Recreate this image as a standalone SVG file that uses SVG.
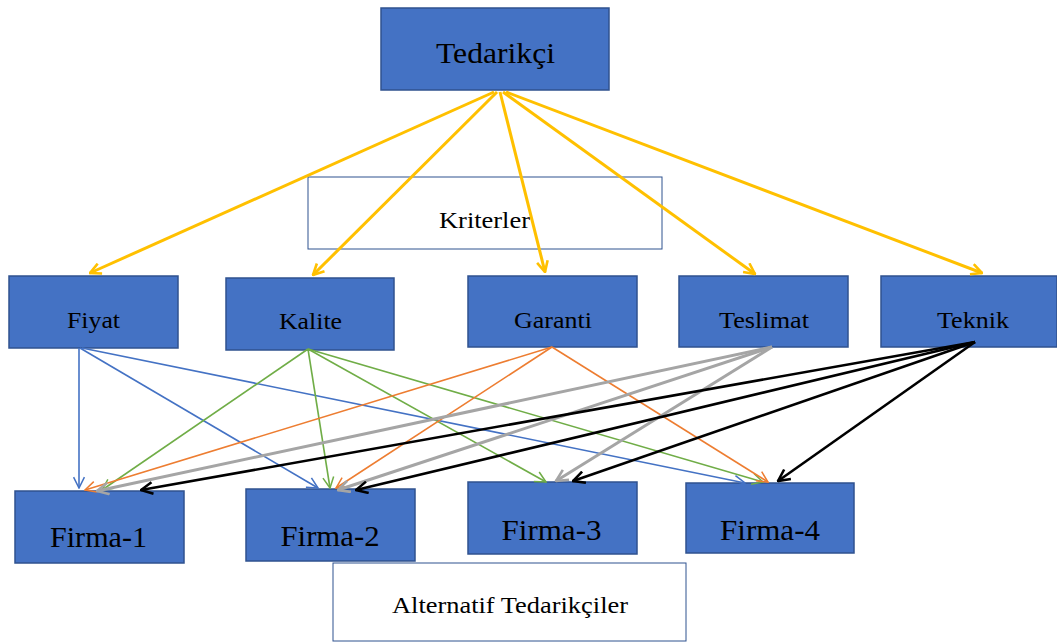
<svg xmlns="http://www.w3.org/2000/svg" width="1057" height="642" viewBox="0 0 1057 642">
<style>
.box{fill:#4472C4;stroke:#2F528F;stroke-width:1.5}
.lbl{fill:none;stroke:#2F528F;stroke-width:1}
text{font-family:"Liberation Serif","Times New Roman",serif;fill:#000;text-anchor:middle}
.big{font-size:30px}
.mid{font-size:24px}
.sm{font-size:24px}
.c{fill:none}
.y{stroke:#FFC000;stroke-width:3;marker-end:url(#my)}
.b{stroke:#4472C4;stroke-width:1.6;marker-end:url(#mb)}
.g{stroke:#70AD47;stroke-width:1.6;marker-end:url(#mg)}
.o{stroke:#ED7D31;stroke-width:1.6;marker-end:url(#mo)}
.s{stroke:#A5A5A5;stroke-width:3;marker-end:url(#ms)}
.k{stroke:#000;stroke-width:2.6;marker-end:url(#mk)}
</style>
<defs>
<marker id="my" viewBox="0 0 12 12" refX="11" refY="6" markerWidth="13" markerHeight="13" markerUnits="userSpaceOnUse" orient="auto"><path d="M1,1 L11,6 L1,11" fill="none" stroke="#FFC000" stroke-width="2.4"/></marker>
<marker id="mb" viewBox="0 0 12 12" refX="11" refY="6" markerWidth="13" markerHeight="13" markerUnits="userSpaceOnUse" orient="auto"><path d="M1,1 L11,6 L1,11" fill="none" stroke="#4472C4" stroke-width="1.4"/></marker>
<marker id="mg" viewBox="0 0 12 12" refX="11" refY="6" markerWidth="13" markerHeight="13" markerUnits="userSpaceOnUse" orient="auto"><path d="M1,1 L11,6 L1,11" fill="none" stroke="#70AD47" stroke-width="1.4"/></marker>
<marker id="mo" viewBox="0 0 12 12" refX="11" refY="6" markerWidth="13" markerHeight="13" markerUnits="userSpaceOnUse" orient="auto"><path d="M1,1 L11,6 L1,11" fill="none" stroke="#ED7D31" stroke-width="1.4"/></marker>
<marker id="ms" viewBox="0 0 12 12" refX="11" refY="6" markerWidth="14" markerHeight="14" markerUnits="userSpaceOnUse" orient="auto"><path d="M1,1 L11,6 L1,11" fill="none" stroke="#A5A5A5" stroke-width="2.2"/></marker>
<marker id="mk" viewBox="0 0 12 12" refX="11" refY="6" markerWidth="14" markerHeight="14" markerUnits="userSpaceOnUse" orient="auto"><path d="M1,1 L11,6 L1,11" fill="none" stroke="#000" stroke-width="2.2"/></marker>
</defs>

<g id="tedarikci"><rect class="box" x="381" y="8" width="228" height="82"/><text class="big" x="495.5" y="63" textLength="119" lengthAdjust="spacingAndGlyphs">Tedarikçi</text></g>
<g id="kriterler"><rect class="lbl" x="308" y="177" width="354" height="72"/><text class="sm" x="484.5" y="228" textLength="91" lengthAdjust="spacingAndGlyphs">Kriterler</text></g>

<g id="fiyat"><rect class="box" x="9" y="276" width="169" height="72"/><text class="mid" x="93.5" y="328" textLength="53" lengthAdjust="spacingAndGlyphs">Fiyat</text></g>
<g id="kalite"><rect class="box" x="226" y="278" width="168" height="72"/><text class="mid" x="310.5" y="329" textLength="63" lengthAdjust="spacingAndGlyphs">Kalite</text></g>
<g id="garanti"><rect class="box" x="468" y="276" width="169" height="71"/><text class="mid" x="553" y="328" textLength="78" lengthAdjust="spacingAndGlyphs">Garanti</text></g>
<g id="teslimat"><rect class="box" x="679" y="276" width="169" height="71"/><text class="mid" x="764" y="328" textLength="90" lengthAdjust="spacingAndGlyphs">Teslimat</text></g>
<g id="teknik"><rect class="box" x="881" y="276" width="176" height="71"/><text class="mid" x="973" y="328" textLength="72" lengthAdjust="spacingAndGlyphs">Teknik</text></g>

<g id="firma1"><rect class="box" x="15" y="491" width="169" height="72"/><text class="big" x="98.5" y="547" textLength="97" lengthAdjust="spacingAndGlyphs">Firma-1</text></g>
<g id="firma2"><rect class="box" x="246" y="489" width="169" height="72"/><text class="big" x="330" y="546" textLength="99" lengthAdjust="spacingAndGlyphs">Firma-2</text></g>
<g id="firma3"><rect class="box" x="468" y="482" width="169" height="72"/><text class="big" x="551.5" y="540" textLength="100" lengthAdjust="spacingAndGlyphs">Firma-3</text></g>
<g id="firma4"><rect class="box" x="686" y="483" width="168" height="70"/><text class="big" x="770" y="540" textLength="100" lengthAdjust="spacingAndGlyphs">Firma-4</text></g>

<g id="alternatif"><rect class="lbl" x="333" y="563" width="353" height="78"/><text class="sm" x="510" y="613" textLength="236" lengthAdjust="spacingAndGlyphs">Alternatif Tedarikçiler</text></g>

<g id="connectors" class="c">
<line class="y" x1="494" y1="92" x2="90" y2="273"/>
<line class="y" x1="497" y1="92" x2="313" y2="275"/>
<line class="y" x1="500" y1="92" x2="545" y2="272"/>
<line class="y" x1="503" y1="92" x2="755" y2="274"/>
<line class="y" x1="506" y1="92" x2="982" y2="273"/>

<line class="b" x1="79" y1="348" x2="79" y2="488"/>
<line class="b" x1="80" y1="348" x2="318" y2="488"/>
<line class="b" x1="82" y1="348" x2="745" y2="483"/>

<line class="g" x1="308" y1="349" x2="102" y2="490"/>
<line class="g" x1="308" y1="349" x2="330" y2="488"/>
<line class="g" x1="308" y1="349" x2="546" y2="482"/>
<line class="g" x1="308" y1="349" x2="763" y2="482"/>

<line class="o" x1="552" y1="347" x2="85" y2="490"/>
<line class="o" x1="552" y1="347" x2="336" y2="488"/>
<line class="o" x1="552" y1="347" x2="768" y2="482"/>

<line class="s" x1="772" y1="347" x2="97" y2="491"/>
<line class="s" x1="772" y1="347" x2="338" y2="490"/>
<line class="s" x1="772" y1="347" x2="556" y2="481"/>

<line class="k" x1="975" y1="342" x2="141" y2="490"/>
<line class="k" x1="975" y1="342" x2="356" y2="490"/>
<line class="k" x1="975" y1="342" x2="573" y2="481"/>
<line class="k" x1="975" y1="342" x2="778" y2="481"/>
</g>
</svg>
